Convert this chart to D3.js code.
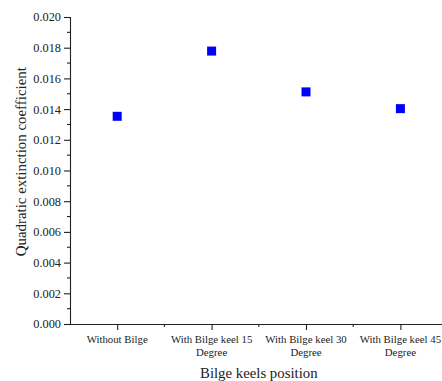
<!DOCTYPE html>
<html>
<head>
<meta charset="utf-8">
<script src="https://cdn.jsdelivr.net/npm/d3@7"></script>
<style>
  html, body { margin: 0; padding: 0; background: #fff; }
  svg { display: block; }
  text { font-family: "Liberation Serif", "Times New Roman", serif; fill: #222; }
</style>
</head>
<body>
<svg id="chart" width="442" height="381"></svg>
<script>
const categories = [
    ["Without Bilge"],
    ["With Bilge keel 15", "Degree"],
    ["With Bilge keel 30", "Degree"],
    ["With Bilge keel 45", "Degree"]
];
const values = [0.01353, 0.01778, 0.01512, 0.01403];
const yTicks = [0, 0.002, 0.004, 0.006, 0.008, 0.010, 0.012, 0.014, 0.016, 0.018, 0.020];
const yMinorTicks = [0.001, 0.003, 0.005, 0.007, 0.009, 0.011, 0.013, 0.015, 0.017, 0.019];

const svg = d3.select("#chart");
const margin = { left: 70, top: 17, bottom: 324 };
const serif = "'Liberation Serif', 'Times New Roman', serif";

// x runs a half-slot past each end, so the right end falls off the page like the original
const x = d3.scaleLinear()
    .domain([0.5, categories.length + 0.5])
    .range([margin.left, margin.left + 4 * 94.4]);

const y = d3.scaleLinear()
    .domain([0, 0.020])
    .range([margin.bottom, margin.top]);

const axisColor = "#222";

// y axis
const yAxis = svg.append("g").attr("transform", `translate(${margin.left},0)`);
yAxis.call(d3.axisLeft(y).tickValues(yTicks).tickFormat(d3.format(".3f")).tickSize(6).tickPadding(3));
yAxis.attr("font-family", serif);
yAxis.append("g").selectAll("line")
    .data(yMinorTicks)
    .enter().append("line")
    .attr("x1", -3).attr("x2", 0)
    .attr("y1", d => y(d)).attr("y2", d => y(d));
yAxis.selectAll("text").style("font-size", "12.3px").style("font-family", serif);

// x axis
const xAxis = svg.append("g").attr("transform", `translate(0,${margin.bottom})`);
xAxis.call(d3.axisBottom(x).tickValues(d3.range(1, categories.length + 1)).tickFormat("").tickSize(6).tickSizeOuter(0));
xAxis.append("g").selectAll("line")
    .data(d3.range(1.5, categories.length, 1))
    .enter().append("line")
    .attr("x1", d => x(d)).attr("x2", d => x(d))
    .attr("y1", 0).attr("y2", 3);

// category labels, two lines each
const labels = svg.append("g");
categories.forEach((lines, i) => {
    const t = labels.append("text")
        .attr("x", x(i + 1))
        .attr("y", 342.5)
        .attr("text-anchor", "middle")
        .style("font-family", serif)
        .style("font-size", "10.8px");
    lines.forEach((s, j) => {
        t.append("tspan").attr("x", x(i + 1)).attr("dy", j === 0 ? 0 : 13.6).text(s);
    });
});

svg.selectAll(".domain, .tick line, g line").attr("stroke", axisColor).attr("stroke-width", 1.1);

// titles
svg.append("text")
    .attr("x", 258.8)
    .attr("y", 378)
    .attr("text-anchor", "middle")
    .style("font-family", serif)
    .style("font-size", "14.8px")
    .text("Bilge keels position");

svg.append("text")
    .attr("transform", "translate(26,161.7) rotate(-90)")
    .attr("text-anchor", "middle")
    .style("font-family", serif)
    .style("font-size", "14.9px")
    .text("Quadratic extinction coefficient");

// data markers
const size = 9;
svg.append("g").selectAll("rect")
    .data(values)
    .enter().append("rect")
    .attr("x", (d, i) => x(i + 1) - size / 2)
    .attr("y", d => y(d) - size / 2)
    .attr("width", size)
    .attr("height", size)
    .attr("fill", "#0000ff");
</script>
</body>
</html>
